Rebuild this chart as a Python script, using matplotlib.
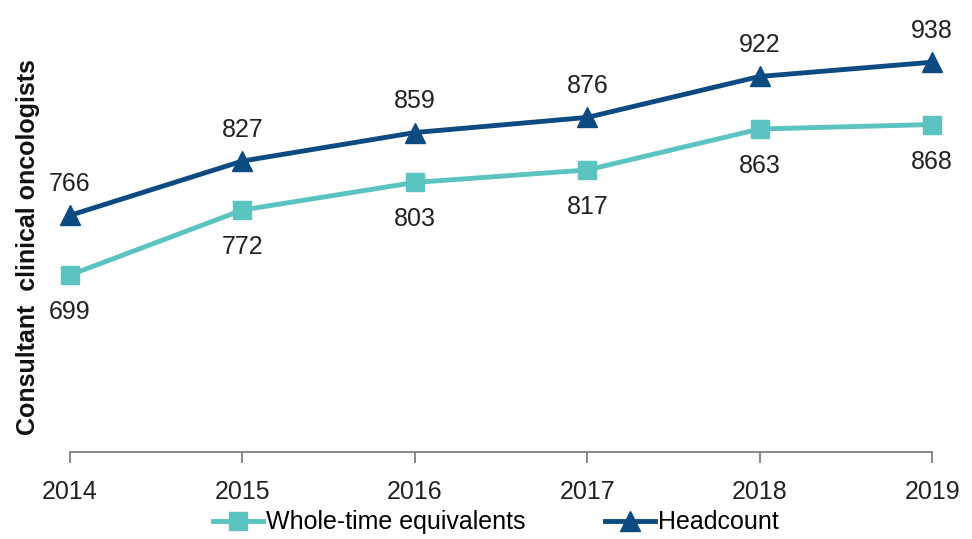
import matplotlib.pyplot as plt

plt.rcParams['font.family'] = ['Liberation Sans', 'DejaVu Sans']

# Consultant clinical oncologists, UK workforce
jahre = [2014, 2015, 2016, 2017, 2018, 2019]
wte = [699, 772, 803, 817, 863, 868]
headcount = [766, 827, 859, 876, 922, 938]

FARBE_WTE = '#5bc3c0'
FARBE_HC = '#0c4a82'

fig = plt.figure(figsize=(9.72, 5.39), dpi=100)
ax = fig.add_axes([0.072, 0.161, 0.887, 0.826])

ax.plot(jahre, wte, color=FARBE_WTE, lw=3.5, marker='s', ms=13,
        label='Whole-time equivalents', clip_on=False)
ax.plot(jahre, headcount, color=FARBE_HC, lw=3.5, marker='^', ms=14,
        label='Headcount', clip_on=False)

# Werte beschriften: Headcount oben, WTE unten
for x, y in zip(jahre, headcount):
    ax.annotate(str(y), (x, y), xytext=(0, 14), textcoords='offset points',
                ha='center', va='bottom', fontsize=18, color='#222222')
for x, y in zip(jahre, wte):
    ax.annotate(str(y), (x, y), xytext=(0, -18), textcoords='offset points',
                ha='center', va='top', fontsize=18, color='#222222')

ax.set_xlim(2014, 2019)
ax.set_ylim(500, 1000)
ax.set_xticks(jahre)
ax.set_xticklabels([str(j) for j in jahre], fontsize=18, color='#222222')
ax.set_yticks([])
for seite in ['top', 'right', 'left']:
    ax.spines[seite].set_visible(False)
ax.spines['bottom'].set_color('#7f7f7f')
ax.spines['bottom'].set_linewidth(1.3)
ax.tick_params(axis='x', length=8, width=1.3, color='#7f7f7f', pad=12)

fig.text(0.029, 0.542, 'Consultant  clinical oncologists', rotation=90,
         ha='center', va='center', fontsize=18, fontweight='bold', color='#111111')

fig.legend(loc='center', bbox_to_anchor=(0.51, 0.031), ncol=2, frameon=False,
           fontsize=18, handlelength=2.0, handletextpad=0.1, columnspacing=3.2,
           borderaxespad=0)

fig.savefig('out.png', dpi=100)
